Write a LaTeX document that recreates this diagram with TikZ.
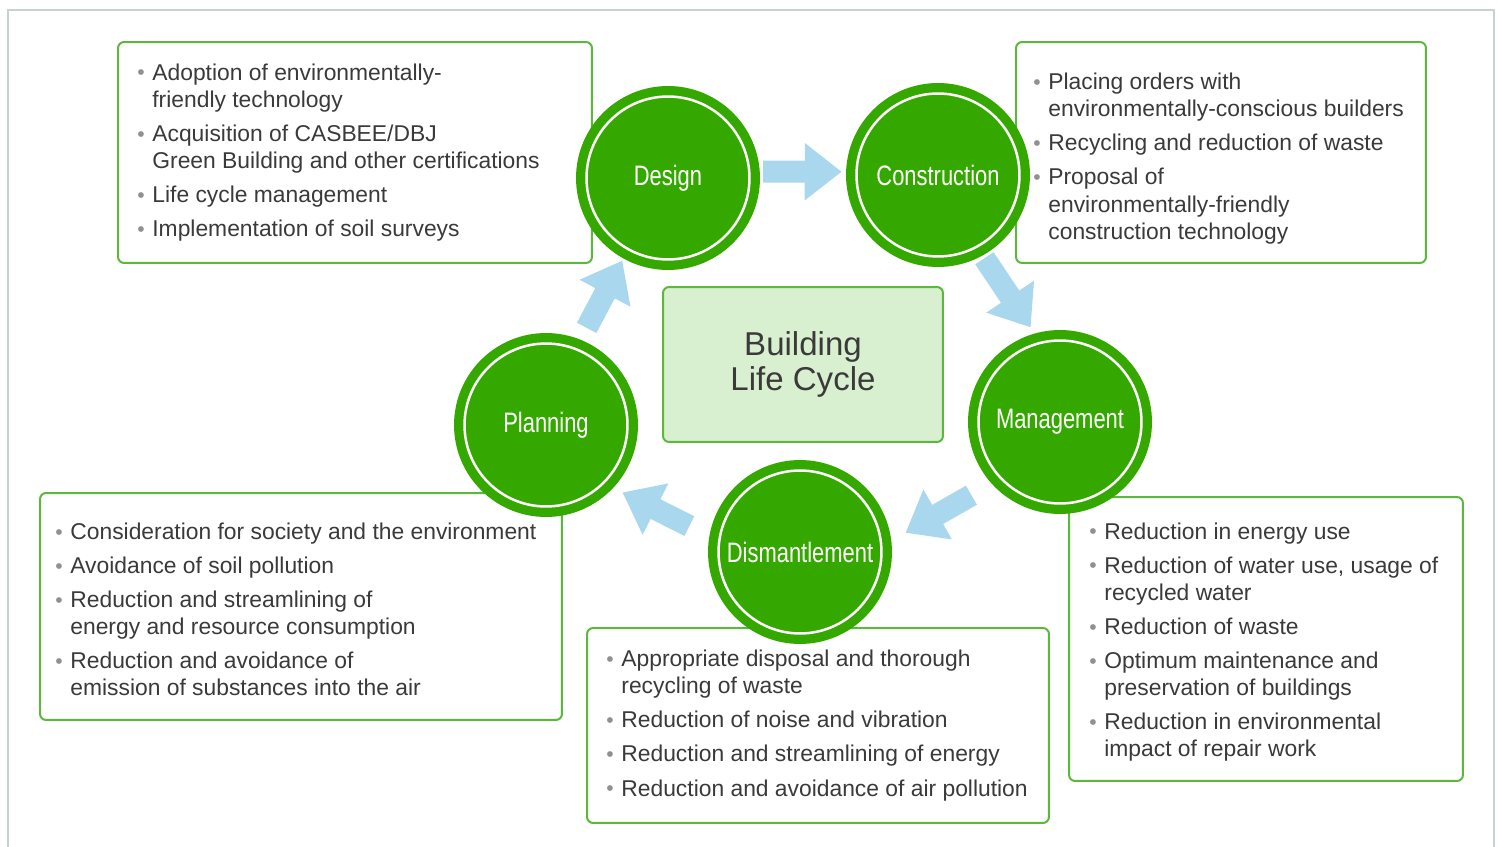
\documentclass[tikz,border=0pt]{standalone}
\usepackage{fontspec}
\setmainfont{Liberation Sans}
\newfontfamily\narrowsans[FakeStretch=0.78]{Liberation Sans}
\usetikzlibrary{arrows.meta}

\definecolor{ringgreen}{HTML}{35A800}
\definecolor{edgegreen}{HTML}{5CB83C}
\definecolor{hubfill}{HTML}{D9F0D0}
\definecolor{flowblue}{HTML}{A9D8EE}
\definecolor{textgray}{HTML}{3A3A3A}
\definecolor{dotgray}{HTML}{909090}
\definecolor{framegray}{HTML}{C6D3CF}

% bullet and hanging indent for the note lines
\newcommand{\dotitem}{\makebox[0.3cm][l]{\textcolor{dotgray}{\raisebox{0.2pt}{\fontsize{12}{12}\selectfont\textbullet}}}}
\newcommand{\cont}{\hspace*{0.3cm}}

\begin{document}
\begin{tikzpicture}[x=0.02cm, y=-0.02cm,
    stagering/.style={circle, fill=ringgreen, minimum size=3.68cm, inner sep=0pt,
      text=white, font=\narrowsans\fontsize{16}{18}\selectfont,
      path picture={\draw[white, line width=0.05cm]
        (path picture bounding box.center) circle[radius=1.63cm];}},
    notebox/.style={rectangle, draw=edgegreen, line width=0.04cm, fill=white,
      rounded corners=0.12cm},
    notetext/.style={anchor=west, inner sep=0pt, align=left, text=textgray,
      font=\fontsize{13}{15.4}\selectfont},
    hubbox/.style={rectangle, draw=edgegreen, line width=0.04cm, fill=hubfill,
      rounded corners=0.12cm, minimum width=5.6cm, minimum height=3.1cm,
      align=center, text=textgray, font=\fontsize{18.8}{20}\selectfont},
    flow/.style={draw=flowblue, line width=0.44cm,
      -{Triangle[width=1.1cm,length=0.74cm]}}]

  \useasboundingbox (0,0) rectangle (1498,847);
  \draw[framegray, line width=0.04cm] (8,850) -- (8,10) -- (1494,10) -- (1494,850);

  % note boxes
  \node[notebox, minimum width=9.48cm, minimum height=4.42cm] (designbox) at (355,152.5) {};
  \node[notebox, minimum width=8.2cm, minimum height=4.42cm] (constrbox) at (1221,152.5) {};
  \node[notebox, minimum width=10.44cm, minimum height=4.54cm] (planbox) at (301,606.5) {};
  \node[notebox, minimum width=9.24cm, minimum height=3.9cm] (dismbox) at (818,725.5) {};
  \node[notebox, minimum width=7.88cm, minimum height=5.68cm] (mgmtbox) at (1266,639) {};

  \node[notetext] (designtext) at ([xshift=0.4cm]designbox.west) {%
    \dotitem Adoption of environmentally-\\ \cont friendly technology\\[4pt]
    \dotitem Acquisition of CASBEE/DBJ\\ \cont Green Building and other certifications\\[4pt]
    \dotitem Life cycle management\\[4pt]
    \dotitem Implementation of soil surveys};
  \node[notetext] (constrtext) at ([xshift=0.36cm, yshift=-0.12cm]constrbox.west) {%
    \dotitem Placing orders with\\ \cont environmentally-conscious builders\\[4pt]
    \dotitem Recycling and reduction of waste\\[4pt]
    \dotitem Proposal of\\ \cont environmentally-friendly\\ \cont construction technology};
  \node[notetext] (plantext) at ([xshift=0.32cm, yshift=-0.06cm]planbox.west) {%
    \dotitem Consideration for society and the environment\\[4pt]
    \dotitem Avoidance of soil pollution\\[4pt]
    \dotitem Reduction and streamlining of\\ \cont energy and resource consumption\\[4pt]
    \dotitem Reduction and avoidance of\\ \cont emission of substances into the air};
  \node[notetext] (dismtext) at ([xshift=0.4cm]dismbox.west) {%
    \dotitem Appropriate disposal and thorough\\ \cont recycling of waste\\[4pt]
    \dotitem Reduction of noise and vibration\\[4pt]
    \dotitem Reduction and streamlining of energy\\[4pt]
    \dotitem Reduction and avoidance of air pollution};
  \node[notetext] (mgmttext) at ([xshift=0.42cm, yshift=-0.06cm]mgmtbox.west) {%
    \dotitem Reduction in energy use\\[4pt]
    \dotitem Reduction of water use, usage of\\ \cont recycled water\\[4pt]
    \dotitem Reduction of waste\\[4pt]
    \dotitem Optimum maintenance and\\ \cont preservation of buildings\\[4pt]
    \dotitem Reduction in environmental\\ \cont impact of repair work};

  \node[hubbox] (hub) at (803,364.5) {Building\\Life Cycle};

  % stages
  \node[stagering] (design) at (668,178) {Design};
  \node[stagering] (construction) at (938,175) {Construction};
  \node[stagering] (management) at (1060,422) {Management};
  \node[stagering] (dismantlement) at (800,552) {Dismantlement};
  \node[stagering] (planning) at (546,425) {Planning};

  \draw[flow, shorten <=0.06cm, shorten >=0.08cm] (design.4) -- (construction.178);
  \draw[flow, shorten <=0.06cm, shorten >=0.14cm] (construction.-61) -- (management.106);
  \draw[flow, shorten <=0.46cm, shorten >=0.32cm] (management.222) -- (dismantlement.7);
  \draw[flow, shorten <=0.44cm, shorten >=0.2cm] (dismantlement.170) -- (planning.-43);
  \draw[flow, shorten <=0.26cm, shorten >=0.04cm] (planning.68) -- (design.241);

\end{tikzpicture}
\end{document}
